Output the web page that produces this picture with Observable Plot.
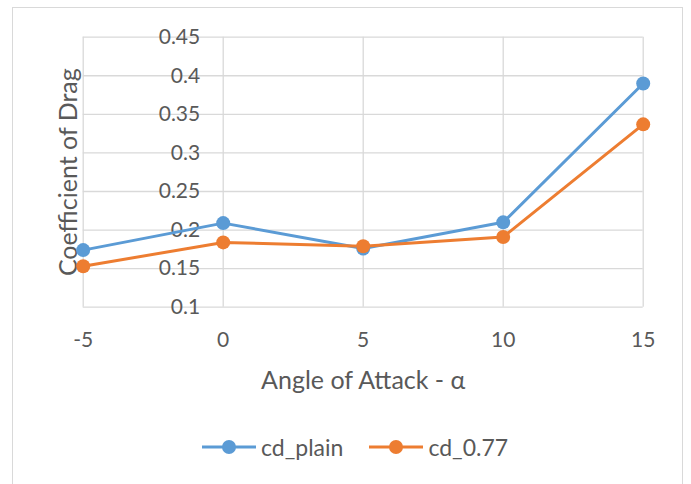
<!DOCTYPE html>
<html>
<head>
<meta charset="utf-8">
<script src="https://cdn.jsdelivr.net/npm/d3@7"></script>
<script src="https://cdn.jsdelivr.net/npm/@observablehq/plot@0.6"></script>
<style>
  html, body { margin: 0; padding: 0; background: #fff; }
  #wrap { position: relative; width: 691px; height: 484px; overflow: hidden; font-family: Lato, "Open Sans", sans-serif; }
  #border { position: absolute; left: 12px; top: 7px; width: 671px; height: 520px; border: 1px solid #d9d9d9; box-sizing: border-box; }
  #chart { position: absolute; left: 0; top: 0; }
  #legend { position: absolute; left: 202px; top: 433px; height: 28px; display: flex; align-items: center; font-size: 23px; color: #595959; }
  .item { display: flex; align-items: center; margin-right: 26px; }
  .item svg { margin-right: 5px; }
</style>
</head>
<body>
<div id="wrap">
  <div id="border"></div>
  <div id="chart"></div>
  <div id="legend"></div>
</div>
<script>
const angles = [-5, 0, 5, 10, 15];
const cdPlain = [0.174, 0.209, 0.176, 0.210, 0.390];
const cd077 = [0.153, 0.184, 0.179, 0.191, 0.337];
const seriesNames = ["cd_plain", "cd_0.77"];
const seriesColors = ["#5b9bd5", "#ed7d31"];
const xTicks = [-5, 0, 5, 10, 15];
const yTicks = [0.1, 0.15, 0.2, 0.25, 0.3, 0.35, 0.4, 0.45];
const xTitle = "Angle of Attack - α";
const yTitle = "Coefficient of Drag";

const rows = [];
angles.forEach((a, i) => {
  rows.push({angle: a, cd: cdPlain[i], series: seriesNames[0]});
  rows.push({angle: a, cd: cd077[i], series: seriesNames[1]});
});

const yMin = yTicks[0], yMax = yTicks[yTicks.length - 1];
const textColor = "#595959";
const gridColor = "#d9d9d9";

const chart = Plot.plot({
  width: 691,
  height: 420,
  marginLeft: 82.7,
  marginRight: 48.3,
  marginTop: 36.7,
  marginBottom: 113.3,
  style: {fontFamily: "Lato, 'Open Sans', sans-serif", fontSize: "21px", background: "transparent"},
  x: {domain: [xTicks[0], xTicks[xTicks.length - 1]], axis: null},
  y: {domain: [yMin, yMax], axis: null},
  color: {domain: seriesNames, range: seriesColors},
  marks: [
    Plot.ruleY(yTicks, {y: d => d, stroke: gridColor, strokeWidth: 1.3}),
    Plot.ruleX(xTicks, {x: d => d, y1: yMin, y2: yMax, stroke: gridColor, strokeWidth: 1.3}),
    Plot.text(yTicks, {x: 0, y: d => d, text: d => String(d), dx: -23, textAnchor: "end", fill: textColor, lineAnchor: "middle", fontSize: 21}),
    Plot.text(xTicks, {x: d => d, y: yMin, text: d => String(d), dy: 33, fill: textColor, lineAnchor: "middle", fontSize: 21}),
    Plot.text([xTitle], {frameAnchor: "bottom", dy: 74, fill: textColor, lineAnchor: "middle", textAnchor: "middle", fontSize: 25}),
    Plot.text([yTitle], {frameAnchor: "left", rotate: -90, dx: -14.7, fill: textColor, lineAnchor: "middle", textAnchor: "middle", fontSize: 25}),
    Plot.line(rows, {x: "angle", y: "cd", z: "series", stroke: "series", strokeWidth: 3, curve: "linear"}),
    Plot.dot(rows, {x: "angle", y: "cd", fill: "series", r: 7, stroke: null})
  ]
});
document.getElementById("chart").append(chart);

const legend = document.getElementById("legend");
seriesNames.forEach((name, i) => {
  const item = document.createElement("div");
  item.className = "item";
  item.innerHTML = `<svg width="54" height="16"><line x1="0" x2="54" y1="8" y2="8" stroke="${seriesColors[i]}" stroke-width="3"/><circle cx="27" cy="8" r="7" fill="${seriesColors[i]}"/></svg><span>${name}</span>`;
  legend.append(item);
});
</script>
</body>
</html>
